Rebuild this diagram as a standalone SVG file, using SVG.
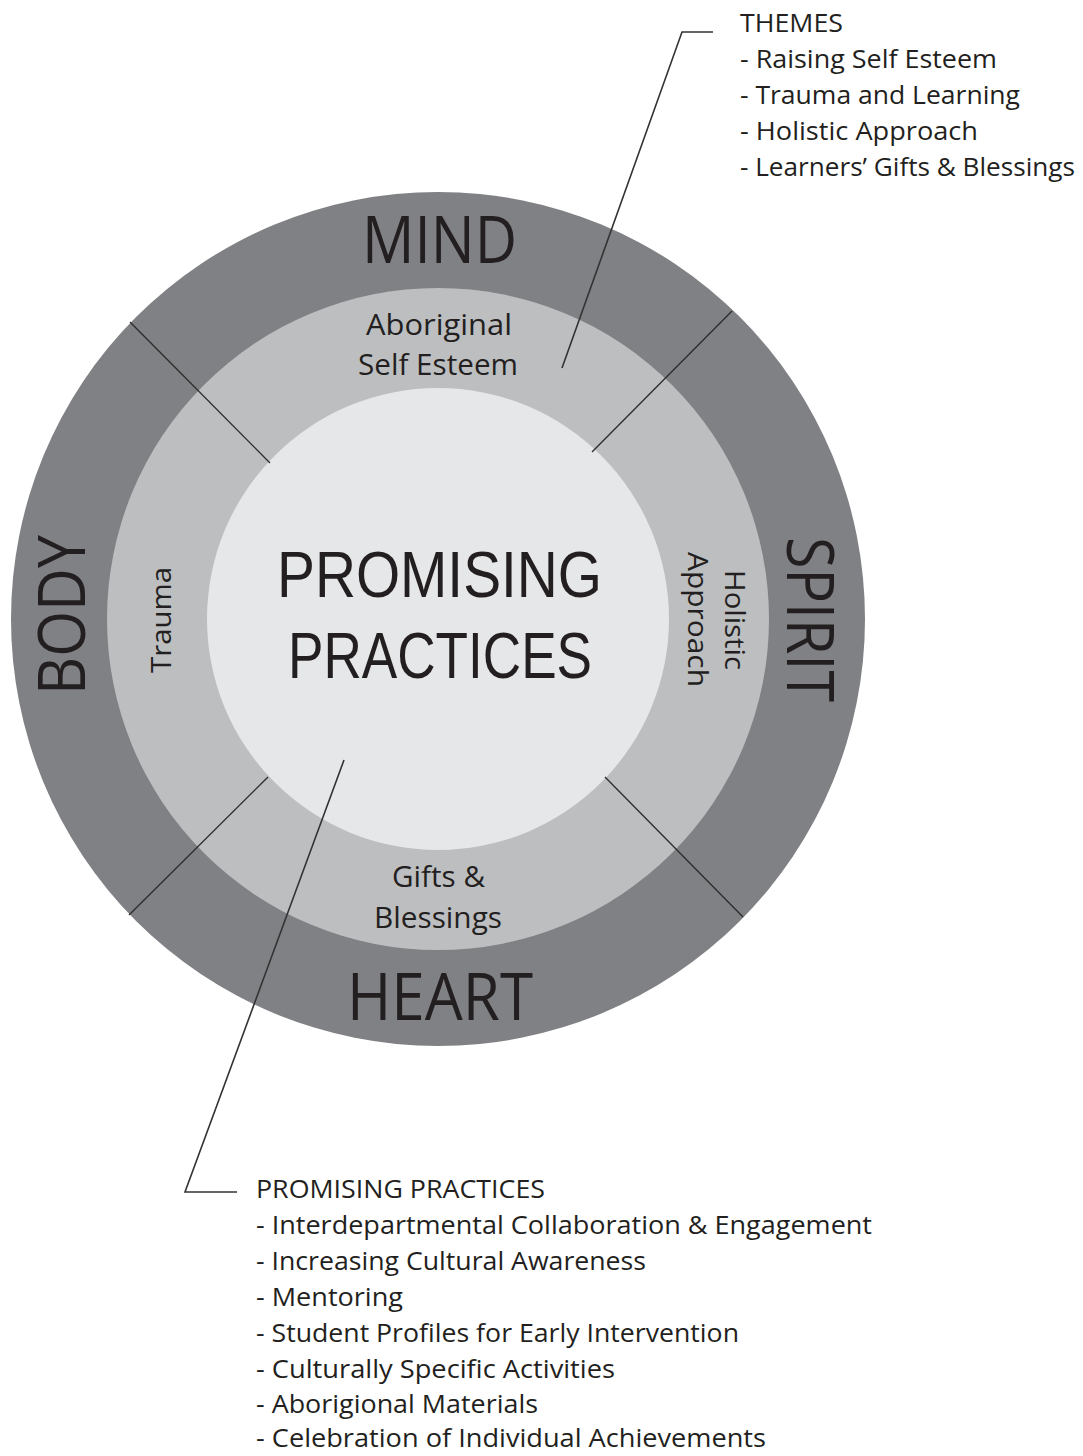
<svg xmlns="http://www.w3.org/2000/svg" width="1083" height="1456" viewBox="0 0 1083 1456">
<style>
text{font-family:"Open Sans","Liberation Sans",sans-serif;fill:#231f20}
.big{font-size:66px;text-anchor:middle}
.ctr{font-family:"Liberation Sans","Open Sans",sans-serif;font-size:65px;text-anchor:middle}
.mid{font-size:30px;text-anchor:middle}
.rot{font-size:28px;text-anchor:middle}
.list{font-size:26px}
.div{stroke:#2b2b2b;stroke-width:1.3;fill:none}
.lead{stroke:#333;stroke-width:1.6;fill:none}
</style>
<rect width="1083" height="1456" fill="#ffffff"/>
<g id="rings">
<circle id="outer" cx="438" cy="619" r="427" fill="#808184"/>
<circle id="middle" cx="438" cy="619" r="331" fill="#bdbec0"/>
<circle id="inner" cx="438" cy="619" r="231" fill="#e6e7e8"/>
</g>
<g id="connectors">
<line class="div" x1="130" y1="322" x2="270" y2="463"/>
<line class="div" x1="592" y1="452" x2="732" y2="311"/>
<line class="div" x1="268" y1="777" x2="129" y2="915"/>
<line class="div" x1="605" y1="777" x2="743" y2="917"/>
<polyline class="lead" points="562,368 682,32 713,32"/>
<polyline class="lead" points="344,760 185,1192 237,1192"/>
</g>
<g id="node-mind"><text class="big" x="439.5" y="263" textLength="155" lengthAdjust="spacingAndGlyphs">MIND</text></g>
<g id="node-heart"><text class="big" x="440" y="1020" textLength="186" lengthAdjust="spacingAndGlyphs">HEART</text></g>
<g id="node-body"><text class="big" transform="translate(85,615) rotate(-90)" x="0" y="0" textLength="160" lengthAdjust="spacingAndGlyphs">BODY</text></g>
<g id="node-spirit"><text class="big" transform="translate(787,619.5) rotate(90)" x="0" y="0" textLength="165" lengthAdjust="spacingAndGlyphs">SPIRIT</text></g>
<g id="node-center">
<text class="ctr" x="439.5" y="597" textLength="325" lengthAdjust="spacingAndGlyphs">PROMISING</text>
<text class="ctr" x="440" y="678" textLength="304" lengthAdjust="spacingAndGlyphs">PRACTICES</text>
</g>
<g id="node-selfesteem">
<text class="mid" x="439" y="335" textLength="146" lengthAdjust="spacingAndGlyphs">Aboriginal</text>
<text class="mid" x="438" y="375" textLength="160" lengthAdjust="spacingAndGlyphs">Self Esteem</text>
</g>
<g id="node-gifts">
<text class="mid" x="438.5" y="887" textLength="93" lengthAdjust="spacingAndGlyphs">Gifts &amp;</text>
<text class="mid" x="438" y="928" textLength="128" lengthAdjust="spacingAndGlyphs">Blessings</text>
</g>
<g id="node-trauma"><text class="rot" transform="translate(171,620) rotate(-90)" x="0" y="0" textLength="106" lengthAdjust="spacingAndGlyphs">Trauma</text></g>
<g id="node-holistic">
<text class="rot" transform="translate(725,620) rotate(90)" x="0" y="0" textLength="100" lengthAdjust="spacingAndGlyphs">Holistic</text>
<text class="rot" transform="translate(688,619.5) rotate(90)" x="0" y="0" textLength="135" lengthAdjust="spacingAndGlyphs">Approach</text>
</g>
<g id="node-themes">
<text class="list" x="740" y="32" textLength="103" lengthAdjust="spacingAndGlyphs">THEMES</text>
<text class="list" x="740" y="68" textLength="257" lengthAdjust="spacingAndGlyphs">- Raising Self Esteem</text>
<text class="list" x="740" y="104" textLength="280" lengthAdjust="spacingAndGlyphs">- Trauma and Learning</text>
<text class="list" x="740" y="140" textLength="238" lengthAdjust="spacingAndGlyphs">- Holistic Approach</text>
<text class="list" x="740" y="176" textLength="335" lengthAdjust="spacingAndGlyphs">- Learners’ Gifts &amp; Blessings</text>
</g>
<g id="node-practices">
<text class="list" x="256" y="1198" textLength="289" lengthAdjust="spacingAndGlyphs">PROMISING PRACTICES</text>
<text class="list" x="256" y="1234" textLength="616" lengthAdjust="spacingAndGlyphs">- Interdepartmental Collaboration &amp; Engagement</text>
<text class="list" x="256" y="1270" textLength="390" lengthAdjust="spacingAndGlyphs">- Increasing Cultural Awareness</text>
<text class="list" x="256" y="1306" textLength="147" lengthAdjust="spacingAndGlyphs">- Mentoring</text>
<text class="list" x="256" y="1342" textLength="483" lengthAdjust="spacingAndGlyphs">- Student Profiles for Early Intervention</text>
<text class="list" x="256" y="1378" textLength="359" lengthAdjust="spacingAndGlyphs">- Culturally Specific Activities</text>
<text class="list" x="256" y="1413" textLength="282" lengthAdjust="spacingAndGlyphs">- Aborigional Materials</text>
<text class="list" x="256" y="1447" textLength="510" lengthAdjust="spacingAndGlyphs">- Celebration of Individual Achievements</text>
</g>
</svg>
